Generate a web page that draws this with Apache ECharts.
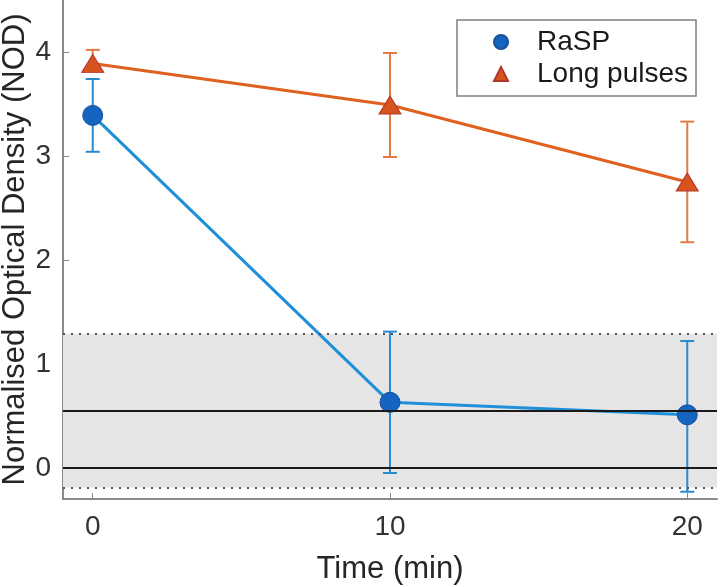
<!DOCTYPE html>
<html>
<head>
<meta charset="utf-8">
<script src="https://cdn.jsdelivr.net/npm/echarts@6/dist/echarts.min.js"></script>
<style>
  html, body { margin: 0; padding: 0; background: #fff; }
  #main { width: 720px; height: 587px; }
</style>
</head>
<body>
<div id="main"></div>
<script>
// time points (min)
const times = [0, 10, 20];
// RaSP
const raspMean = [3.39, 0.63, 0.51];
const raspLow = [3.04, -0.05, -0.23];
const raspHigh = [3.74, 1.31, 1.22];
// Long pulses
const longMean = [3.89, 3.49, 2.75];
const longLow = [3.82, 2.99, 2.17];
const longHigh = [4.02, 3.99, 3.33];
// reference band and lines
const bandRange = [-0.19, 1.29];
const refLines = [0, 0.55];
const xTicks = [0, 10, 20];
const yTicks = [0, 1, 2, 3, 4];

const chart = echarts.init(document.getElementById('main'));

function errorBars(low, high, color) {
    return {
        type: 'custom',
        silent: true,
        z: 3,
        data: times.map((t, i) => [t, low[i], high[i]]),
        renderItem: function (params, api) {
            const top = api.coord([api.value(0), api.value(2)]);
            const bot = api.coord([api.value(0), api.value(1)]);
            const cap = 7;
            const style = { stroke: color, lineWidth: 2 };
            return {
                type: 'group',
                children: [
                    { type: 'line', shape: { x1: top[0], y1: top[1], x2: bot[0], y2: bot[1] }, style: style },
                    { type: 'line', shape: { x1: top[0] - cap, y1: top[1], x2: top[0] + cap, y2: top[1] }, style: style },
                    { type: 'line', shape: { x1: bot[0] - cap, y1: bot[1], x2: bot[0] + cap, y2: bot[1] }, style: style }
                ]
            };
        }
    };
}

const font = 'Liberation Sans, Arial, sans-serif';

var option = {
    animation: false,
    grid: { left: 63, right: 3, top: 0, bottom: 88, containLabel: false, outerBoundsMode: 'none' },
    legend: {
        orient: 'vertical',
        left: 457,
        top: 20,
        padding: [6, 8, 6, 36],
        itemGap: 0,
        itemWidth: 14,
        itemHeight: 14,
        borderColor: '#7f7f7f',
        borderWidth: 1.5,
        backgroundColor: '#fff',
        textStyle: { fontFamily: font, fontSize: 28, lineHeight: 32, color: '#1a1a1a', padding: [0, 0, 0, 24] },
        data: [
            { name: 'RaSP', icon: 'circle', itemStyle: { color: '#1565c0' } },
            { name: 'Long pulses', icon: 'triangle', itemStyle: { color: '#d9531e' } }
        ]
    },
    xAxis: {
        type: 'value',
        min: -1,
        max: 21,
        name: 'Time (min)',
        nameLocation: 'middle',
        nameGap: 55,
        nameMoveOverlap: false,
        nameTextStyle: { fontFamily: font, fontSize: 31, color: '#262626' },
        splitLine: { show: false },
        axisLine: { onZero: false, lineStyle: { color: '#8a8a8a', width: 2 } },
        axisTick: { inside: true, length: 6, customValues: xTicks, lineStyle: { color: '#8a8a8a' } },
        axisLabel: { customValues: xTicks, margin: 14, fontFamily: font, fontSize: 28, color: '#333' }
    },
    yAxis: {
        type: 'value',
        min: -0.3,
        max: 4.5,
        name: 'Normalised Optical Density (NOD)',
        nameLocation: 'middle',
        nameGap: 32,
        nameMoveOverlap: false,
        nameTextStyle: { fontFamily: font, fontSize: 31, color: '#262626' },
        splitLine: { show: false },
        axisLine: { onZero: false, lineStyle: { color: '#8a8a8a', width: 2 } },
        axisTick: { inside: true, length: 6, customValues: yTicks, lineStyle: { color: '#8a8a8a' } },
        axisLabel: { customValues: yTicks, margin: 12, fontFamily: font, fontSize: 28, color: '#333' }
    },
    series: [
        {
            name: 'band',
            type: 'line',
            data: times.map((t, i) => [t, raspMean[i]]),
            symbol: 'none',
            lineStyle: { opacity: 0 },
            silent: true,
            z: 1,
            markArea: {
                silent: true,
                itemStyle: { color: '#e5e5e5' },
                data: [[{ yAxis: bandRange[0] }, { yAxis: bandRange[1] }]]
            },
            markLine: {
                silent: true,
                symbol: 'none',
                label: { show: false },
                data: refLines.map(v => ({ yAxis: v, lineStyle: { color: '#1a1a1a', width: 2, type: 'solid' } }))
                    .concat(bandRange.map(v => ({ yAxis: v, lineStyle: { color: '#555', width: 2, type: [2, 6] } })))
            }
        },
        errorBars(raspLow, raspHigh, '#2a8ad0'),
        errorBars(longLow, longHigh, '#e37a45'),
        {
            name: 'RaSP',
            type: 'line',
            z: 4,
            data: times.map((t, i) => [t, raspMean[i]]),
            symbol: 'circle',
            symbolSize: 20,
            lineStyle: { color: '#1f8fd9', width: 3 },
            itemStyle: { color: '#1565c0', borderColor: '#1a4f9c', borderWidth: 1 }
        },
        {
            name: 'Long pulses',
            type: 'line',
            z: 4,
            data: times.map((t, i) => [t, longMean[i]]),
            symbol: 'triangle',
            symbolSize: [22, 18],
            lineStyle: { color: '#e0601f', width: 3 },
            itemStyle: { color: '#d9531e', borderColor: '#b0362e', borderWidth: 1 }
        }
    ]
};
chart.setOption(option);
</script>
</body>
</html>
